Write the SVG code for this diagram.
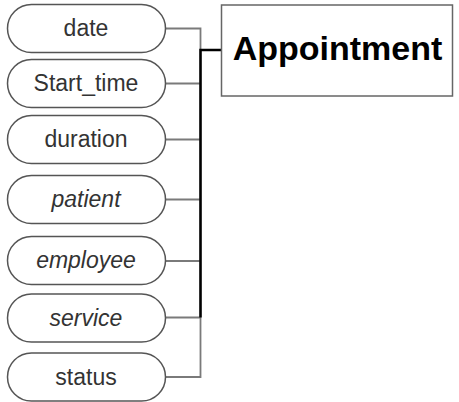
<svg xmlns="http://www.w3.org/2000/svg" width="459" height="402" viewBox="0 0 459 402">
<style>
.pill{fill:#fff;stroke:#555;stroke-width:1.5}
.lbl{font-family:"Liberation Sans",Arial,sans-serif;font-size:23px;fill:#333;text-anchor:middle}
.it{font-style:italic}
.ent{fill:#fff;stroke:#666;stroke-width:1.5}
.title{font-family:"Liberation Sans",Arial,sans-serif;font-size:34px;font-weight:bold;fill:#000;text-anchor:middle}
.gl{fill:none;stroke:#7a7a7a;stroke-width:1.8}
.bl{fill:none;stroke:#000;stroke-width:2.5}
</style>
<g id="connectors">
<path class="gl" d="M166,28.5H200.5V377H166"/>
<path class="gl" d="M166,83.5H200.5"/>
<path class="gl" d="M166,139.5H200.5"/>
<path class="gl" d="M166,199.5H200.5"/>
<path class="gl" d="M166,261H200.5"/>
<path class="gl" d="M166,317.5H200.5"/>
<path class="bl" d="M221,50H200.5V317.5"/>
</g>
<g id="appointment">
<rect class="ent" x="221.5" y="5" width="231" height="91"/>
<text class="title" x="337.5" y="59.5">Appointment</text>
</g>
<g id="date">
<rect class="pill" x="7.5" y="4.5" width="158" height="48" rx="24"/>
<text class="lbl" x="86" y="36">date</text>
</g>
<g id="start_time">
<rect class="pill" x="7.5" y="59.5" width="158" height="48" rx="24"/>
<text class="lbl" x="86" y="91">Start_time</text>
</g>
<g id="duration">
<rect class="pill" x="7.5" y="115.5" width="158" height="48" rx="24"/>
<text class="lbl" x="86" y="147">duration</text>
</g>
<g id="patient">
<rect class="pill" x="7.5" y="175.5" width="158" height="48" rx="24"/>
<text class="lbl it" x="86" y="207">patient</text>
</g>
<g id="employee">
<rect class="pill" x="7.5" y="236.5" width="158" height="48" rx="24"/>
<text class="lbl it" x="86" y="268">employee</text>
</g>
<g id="service">
<rect class="pill" x="7.5" y="294" width="158" height="48" rx="24"/>
<text class="lbl it" x="86" y="325.5">service</text>
</g>
<g id="status">
<rect class="pill" x="7.5" y="353" width="158" height="48" rx="24"/>
<text class="lbl" x="86" y="384.5">status</text>
</g>
</svg>
